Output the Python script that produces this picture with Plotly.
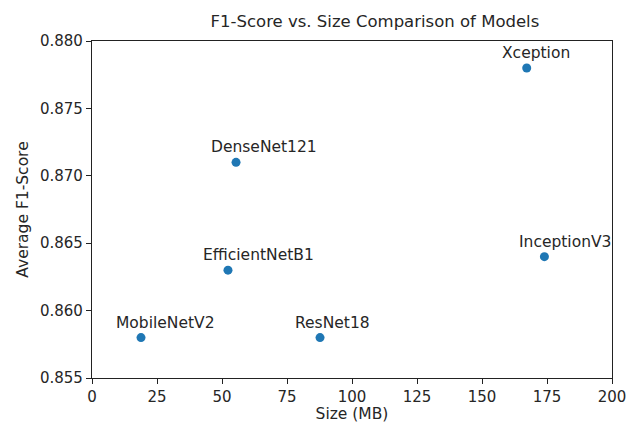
import plotly.graph_objects as go

models = ["MobileNetV2", "EfficientNetB1", "DenseNet121", "ResNet18", "Xception", "InceptionV3"]
size_mb = [18.85, 52.3, 55.4, 87.7, 167.2, 174.0]
f1_score = [0.858, 0.863, 0.871, 0.858, 0.878, 0.864]

x_ticks = [0, 25, 50, 75, 100, 125, 150, 175, 200]
y_ticks = [0.855, 0.860, 0.865, 0.870, 0.875, 0.880]

font_family = "DejaVu Sans"
txt = "#262626"

fig = go.Figure()
fig.add_trace(go.Scatter(
    x=size_mb, y=f1_score, mode="markers",
    marker=dict(color="#1f77b4", size=9),
    cliponaxis=False, showlegend=False, hoverinfo="skip",
))

for name, xv, yv in zip(models, size_mb, f1_score):
    fig.add_annotation(
        x=xv, y=yv, text=name, showarrow=False,
        xanchor="left", yanchor="bottom", xshift=-27, yshift=4,
        font=dict(family=font_family, size=15.5, color=txt),
    )

axis_common = dict(
    showgrid=False, zeroline=False, showline=True, linecolor="#222", linewidth=1.2,
    mirror=True, ticks="outside", ticklen=5, tickcolor="#222", tickwidth=1.2, automargin=False,
    tickfont=dict(family=font_family, size=15, color=txt),
)

fig.update_layout(
    width=627, height=423,
    margin=dict(l=92, r=15, t=41, b=45),
    paper_bgcolor="white", plot_bgcolor="white",
    title=dict(text="F1-Score vs. Size Comparison of Models", x=0.598, xanchor="center",
               y=0.95, yanchor="middle",
               font=dict(family=font_family, size=16.5, color=txt)),
    xaxis=dict(range=[0, 200], tickvals=x_ticks, ticktext=[str(v) for v in x_ticks],
               title=dict(text="Size (MB)", font=dict(family=font_family, size=15.5, color=txt), standoff=1),
               **axis_common),
    yaxis=dict(range=[0.855, 0.880], tickvals=y_ticks, ticktext=[f"{v:.3f}" for v in y_ticks],
               title=dict(text="Average F1-Score", font=dict(family=font_family, size=15.5, color=txt), standoff=7),
               **axis_common),
)

fig.write_html(
    "out.html",
    config={"displayModeBar": False},
    post_script="document.body.style.margin='0';document.body.style.overflow='hidden';",
)
